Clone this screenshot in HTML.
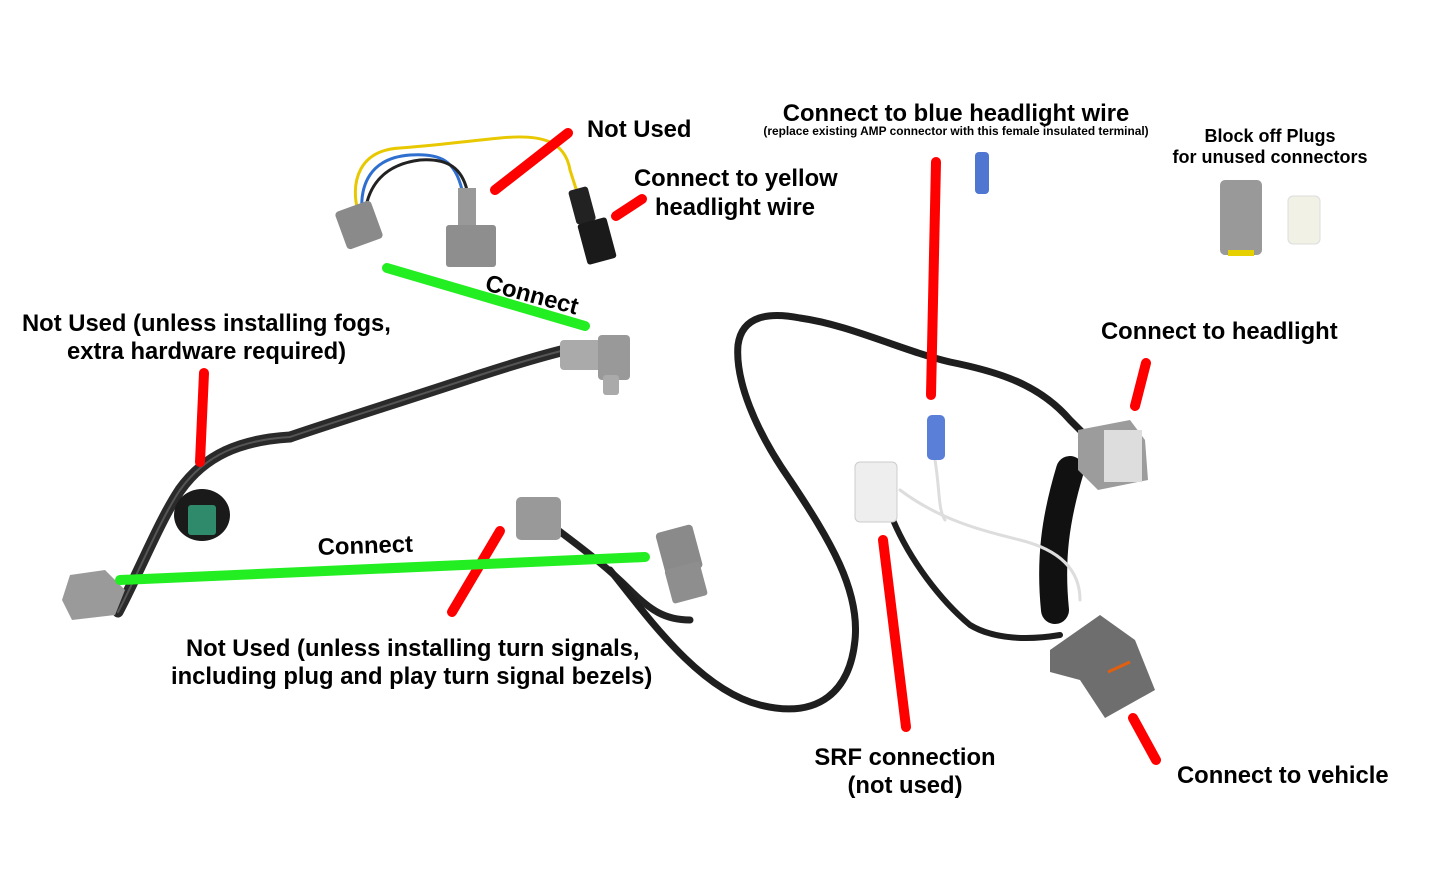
<!DOCTYPE html>
<html><head><meta charset="utf-8"><style>
html,body{margin:0;padding:0;background:#fff;}
svg{display:block;}
text{font-family:"Liberation Sans",Arial,sans-serif;fill:#000;}
</style></head><body>
<svg width="1445" height="894" viewBox="0 0 1445 894" xmlns="http://www.w3.org/2000/svg">
<rect width="1445" height="894" fill="#fff"/>
<g fill="none" stroke-linecap="round" stroke-linejoin="round">
<path d="M358,212 C350,180 360,150 400,148 C430,146 460,142 500,138 C540,134 565,140 570,170 L578,195" stroke="#e8c800" stroke-width="3"/>
<path d="M362,212 C360,185 370,158 410,155 C440,153 455,160 462,190" stroke="#2f6fcf" stroke-width="3"/>
<path d="M365,212 C368,190 380,165 420,160 C450,158 462,170 467,190" stroke="#222" stroke-width="3"/>
<path d="M118,612 C140,570 160,520 180,490 C205,455 240,440 290,437 C340,420 420,395 480,375 C520,362 545,355 565,350" stroke="#2a2a2a" stroke-width="11"/>
<path d="M118,612 C140,570 160,520 180,490 C205,455 240,440 290,437 C340,420 420,395 480,375 C520,362 545,355 565,350" stroke="#555" stroke-width="2"/>
<path d="M545,520 C570,540 600,560 630,590 C650,610 665,620 690,620" stroke="#222" stroke-width="7"/>
<path d="M610,570 C650,620 700,690 760,705 C820,720 850,690 855,640 C860,590 830,540 790,480 C755,430 735,380 738,345 C742,315 770,312 800,318 C850,325 900,350 950,362 C1000,372 1040,385 1070,420 L1085,435" stroke="#1e1e1e" stroke-width="7"/>
<path d="M1070,470 C1055,520 1050,560 1055,610" stroke="#111" stroke-width="28"/>
<path d="M893,520 C910,560 940,600 970,625 C995,640 1030,640 1060,635" stroke="#1e1e1e" stroke-width="6"/>
<path d="M900,490 C940,520 980,530 1020,540 C1060,550 1080,570 1080,600" stroke="#ddd" stroke-width="3"/>
<path d="M935,460 C940,490 938,510 945,520" stroke="#ddd" stroke-width="3"/>
</g>
<rect x="340" y="205" width="38" height="40" rx="4" fill="#8a8a8a" transform="rotate(-20 359 225)"/>
<rect x="458" y="188" width="18" height="40" fill="#999"/>
<rect x="446" y="225" width="50" height="42" rx="3" fill="#8e8e8e"/>
<rect x="572" y="188" width="20" height="35" rx="3" fill="#222" transform="rotate(-15 582 205)"/>
<rect x="582" y="220" width="30" height="42" rx="3" fill="#1a1a1a" transform="rotate(-15 597 241)"/>
<rect x="560" y="340" width="50" height="30" rx="4" fill="#aaa"/>
<rect x="598" y="335" width="32" height="45" rx="4" fill="#999"/>
<rect x="603" y="375" width="16" height="20" rx="3" fill="#aaa"/>
<ellipse cx="202" cy="515" rx="28" ry="26" fill="#1a1a1a"/>
<rect x="188" y="505" width="28" height="30" rx="3" fill="#2e8a6a"/>
<path d="M70,575 L105,570 L125,590 L115,615 L72,620 L62,600 Z" fill="#9a9a9a"/>
<rect x="516" y="497" width="45" height="43" rx="5" fill="#999"/>
<rect x="660" y="528" width="38" height="45" rx="4" fill="#8a8a8a" transform="rotate(-15 679 550)"/>
<rect x="668" y="565" width="36" height="35" rx="3" fill="#8e8e8e" transform="rotate(-15 686 582)"/>
<path d="M1078,430 L1130,420 L1145,440 L1148,480 L1098,490 L1078,470 Z" fill="#9c9c9c"/>
<rect x="1104" y="430" width="38" height="52" fill="#ddd"/>
<path d="M1050,650 L1100,615 L1135,640 L1155,690 L1105,718 L1080,680 L1050,672 Z" fill="#6e6e6e"/>
<line x1="1108" y1="672" x2="1130" y2="662" stroke="#e06010" stroke-width="3"/>
<rect x="855" y="462" width="42" height="60" rx="5" fill="#eee" stroke="#ccc"/>
<rect x="927" y="415" width="18" height="45" rx="5" fill="#5a7fd8"/>
<rect x="975" y="152" width="14" height="42" rx="4" fill="#4f76d0"/>
<rect x="1220" y="180" width="42" height="75" rx="5" fill="#999"/>
<rect x="1228" y="250" width="26" height="6" fill="#e6d000"/>
<rect x="1288" y="196" width="32" height="48" rx="5" fill="#f1f1e6" stroke="#ddd"/>
<g stroke="#ff0000" stroke-width="10" stroke-linecap="round">
<line x1="495" y1="190" x2="568" y2="133"/>
<line x1="616" y1="216" x2="642" y2="199"/>
<line x1="936" y1="162" x2="931" y2="395"/>
<line x1="204" y1="373" x2="200" y2="462"/>
<line x1="1146" y1="363" x2="1135" y2="406"/>
<line x1="500" y1="531" x2="452" y2="612"/>
<line x1="883" y1="540" x2="906" y2="727"/>
<line x1="1133" y1="718" x2="1156" y2="760"/>
</g>
<g stroke="#22ee22" stroke-width="10" stroke-linecap="round">
<line x1="387" y1="268" x2="585" y2="326"/>
<line x1="120" y1="580" x2="645" y2="557"/>
</g>
<g font-size="23.8" font-weight="bold">
<text x="587" y="137">Not Used</text>
<text x="956" y="121" text-anchor="middle">Connect to blue headlight wire</text>
<text x="634" y="186">Connect to yellow</text>
<text x="655" y="215">headlight wire</text>
<text x="484" y="290" transform="rotate(15 484 290)">Connect</text>
<text x="22" y="331">Not Used (unless installing fogs,</text>
<text x="67" y="359">extra hardware required)</text>
<text x="1101" y="339">Connect to headlight</text>
<text x="318" y="555" transform="rotate(-2 318 555)">Connect</text>
<text x="186" y="656">Not Used (unless installing turn signals,</text>
<text x="171" y="684">including plug and play turn signal bezels)</text>
<text x="905" y="765" text-anchor="middle">SRF connection</text>
<text x="905" y="793" text-anchor="middle">(not used)</text>
<text x="1177" y="783">Connect to vehicle</text>
</g>
<text x="956" y="135" text-anchor="middle" font-size="11.9" font-weight="bold">(replace existing AMP connector with this female insulated terminal)</text>
<g font-size="18" font-weight="bold" text-anchor="middle">
<text x="1270" y="142">Block off Plugs</text>
<text x="1270" y="163">for unused connectors</text>
</g>
</svg>
</body></html>
